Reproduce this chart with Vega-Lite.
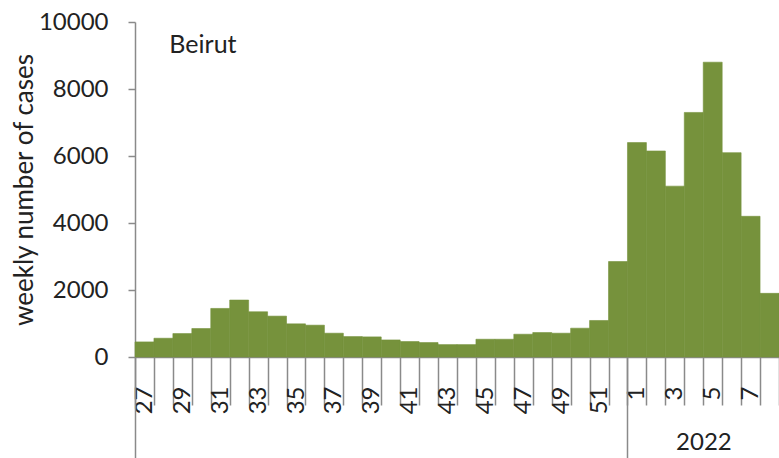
{
  "$schema": "https://vega.github.io/schema/vega-lite/v6.json",
  "width": 644,
  "height": 335,
  "autosize": {"type": "none"},
  "padding": {"left": 135, "top": 22, "right": 0, "bottom": 101},
  "background": "white",
  "config": {"view": {"stroke": null}, "font": "Lato", "axis": {"labelFont": "Lato", "titleFont": "Lato"}},
  "data": {
    "values": [
      {"week": "27", "cases": 450},
      {"week": "28", "cases": 560},
      {"week": "29", "cases": 700},
      {"week": "30", "cases": 850},
      {"week": "31", "cases": 1450},
      {"week": "32", "cases": 1700},
      {"week": "33", "cases": 1350},
      {"week": "34", "cases": 1220},
      {"week": "35", "cases": 990},
      {"week": "36", "cases": 950},
      {"week": "37", "cases": 710},
      {"week": "38", "cases": 610},
      {"week": "39", "cases": 600},
      {"week": "40", "cases": 510},
      {"week": "41", "cases": 460},
      {"week": "42", "cases": 430},
      {"week": "43", "cases": 370},
      {"week": "44", "cases": 370},
      {"week": "45", "cases": 530},
      {"week": "46", "cases": 530},
      {"week": "47", "cases": 680},
      {"week": "48", "cases": 730},
      {"week": "49", "cases": 710},
      {"week": "50", "cases": 860},
      {"week": "51", "cases": 1090},
      {"week": "52", "cases": 2850},
      {"week": "1", "cases": 6400},
      {"week": "2", "cases": 6150},
      {"week": "3", "cases": 5100},
      {"week": "4", "cases": 7300},
      {"week": "5", "cases": 8800},
      {"week": "6", "cases": 6100},
      {"week": "7", "cases": 4200},
      {"week": "8", "cases": 1900}
    ]
  },
  "layer": [
    {
      "mark": {"type": "bar", "color": "#76923c", "stroke": "#76923c", "strokeWidth": 0.6},
      "encoding": {
        "x": {
          "field": "week",
          "type": "ordinal",
          "scale": {"domain": ["27","28","29","30","31","32","33","34","35","36","37","38","39","40","41","42","43","44","45","46","47","48","49","50","51","52","1","2","3","4","5","6","7","8"], "paddingInner": 0, "paddingOuter": 0},
          "axis": {
            "orient": "bottom",
            "title": null,
            "tickBand": "extent",
            "tickSize": 48,
            "tickColor": "#8a8a8a",
            "tickWidth": 1.5,
            "domainColor": "#8a8a8a",
            "domainWidth": 1.5,
            "labelExpr": "toNumber(datum.value) % 2 == 1 ? datum.value : ''",
            "labelAngle": -90,
            "labelFontSize": 24,
            "labelColor": "#222222",
            "labelPadding": -19,
            "labelOverlap": false,
            "labelFlush": false,
            "labelBound": false
          }
        },
        "y": {
          "field": "cases",
          "type": "quantitative",
          "scale": {"domain": [0, 10000], "nice": false},
          "axis": {
            "orient": "left",
            "values": [0, 2000, 4000, 6000, 8000, 10000],
            "format": "d",
            "grid": false,
            "tickSize": 7,
            "tickColor": "#8a8a8a",
            "tickWidth": 1.5,
            "domainColor": "#8a8a8a",
            "domainWidth": 1.5,
            "labelPadding": 20,
            "labelFontSize": 24,
            "labelColor": "#222222",
            "title": "weekly number of cases",
            "titleFontSize": 26,
            "titleFontWeight": "normal",
            "titleColor": "#222222",
            "titlePadding": 1
          }
        }
      }
    },
    {
      "mark": {"type": "bar", "opacity": 0},
      "encoding": {
        "x": {
          "field": "week",
          "type": "ordinal",
          "scale": {"domain": ["27","28","29","30","31","32","33","34","35","36","37","38","39","40","41","42","43","44","45","46","47","48","49","50","51","52","1","2","3","4","5","6","7","8"], "paddingInner": 0, "paddingOuter": 0},
          "axis": {
            "orient": "bottom",
            "title": null,
            "domain": false,
            "bandPosition": 0,
            "values": ["27", "1"],
            "tickSize": 101,
            "tickColor": "#8a8a8a",
            "tickWidth": 1.5,
            "labelExpr": "datum.value == '1' ? '2022' : ''",
            "labelAngle": 0,
            "labelAlign": "center",
            "labelBaseline": "middle",
            "labelOffset": 67,
            "labelPadding": -16,
            "labelFontSize": 24,
            "labelColor": "#222222",
            "labelOverlap": false,
            "labelFlush": false,
            "labelBound": false
          }
        },
        "y": {"field": "cases", "type": "quantitative", "axis": null}
      }
    },
    {
      "data": {"values": [{"label": "Beirut"}]},
      "mark": {"type": "text", "align": "left", "baseline": "middle", "fontSize": 25, "color": "#222222", "dx": -13},
      "encoding": {
        "x": {
          "datum": "29",
          "type": "ordinal",
          "scale": {"domain": ["27","28","29","30","31","32","33","34","35","36","37","38","39","40","41","42","43","44","45","46","47","48","49","50","51","52","1","2","3","4","5","6","7","8"], "paddingInner": 0, "paddingOuter": 0},
          "axis": null
        },
        "y": {"datum": 9300, "type": "quantitative", "axis": null},
        "text": {"field": "label"}
      }
    }
  ],
  "resolve": {"axis": {"x": "independent", "y": "independent"}}
}
